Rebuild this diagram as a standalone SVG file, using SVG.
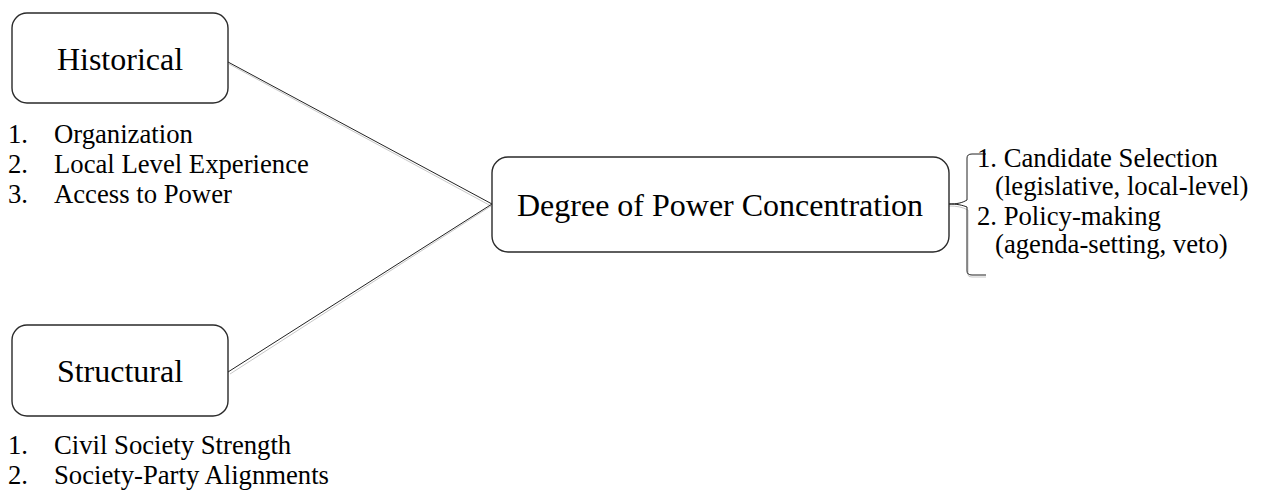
<svg xmlns="http://www.w3.org/2000/svg" width="1266" height="491" viewBox="0 0 1266 491">
<style>
.box{fill:#fff;stroke:#2a2a2a;stroke-width:1.4}
.big{font-family:"Liberation Serif",serif;font-size:32px;fill:#000}
.txt{font-family:"Liberation Serif",serif;font-size:26.7px;fill:#000}
.con{stroke:#222;stroke-width:1;fill:none}
.shd{stroke:#c8c8c8;stroke-width:1;fill:none}
</style>
<rect width="1266" height="491" fill="#fff"/>
<g id="connectors">
<line class="shd" x1="229" y1="64" x2="491" y2="206"/>
<line class="con" x1="228" y1="62" x2="492" y2="204"/>
<line class="shd" x1="230" y1="374" x2="491" y2="206"/>
<line class="con" x1="228" y1="372" x2="492" y2="204"/>
<path class="shd" d="M949,206 C957,206 962,207 968,210 L968,275 Q968,277 972,277 L986,277"/>
<path class="con" d="M949,204 C957,204 962,203 967,200 L967,158 Q967,154 972,154 L986,154 M967,207 L967,271 Q967,275 972,275 L986,275 M949,204 C957,204 962,205 967,207"/>
</g>
<g id="historical">
<rect class="box" x="12" y="13" width="216" height="90" rx="15"/>
<text class="big" x="120" y="70" text-anchor="middle">Historical</text>
</g>
<g id="historical-list">
<text class="txt" x="8" y="143">1.</text><text class="txt" x="54" y="143">Organization</text>
<text class="txt" x="8" y="173">2.</text><text class="txt" x="54" y="173">Local Level Experience</text>
<text class="txt" x="8" y="203">3.</text><text class="txt" x="54" y="203">Access to Power</text>
</g>
<g id="structural">
<rect class="box" x="12" y="325" width="216" height="91" rx="15"/>
<text class="big" x="120" y="382" text-anchor="middle">Structural</text>
</g>
<g id="structural-list">
<text class="txt" x="8" y="454">1.</text><text class="txt" x="54" y="454">Civil Society Strength</text>
<text class="txt" x="8" y="484">2.</text><text class="txt" x="54" y="484">Society-Party Alignments</text>
</g>
<g id="degree">
<rect class="box" x="492" y="157" width="457" height="95" rx="16"/>
<text class="big" x="720" y="216" text-anchor="middle">Degree of Power Concentration</text>
</g>
<g id="outcomes">
<text class="txt" x="977" y="167">1. Candidate Selection</text>
<text class="txt" x="995" y="195">(legislative, local-level)</text>
<text class="txt" x="977" y="225">2. Policy-making</text>
<text class="txt" x="995" y="253">(agenda-setting, veto)</text>
</g>
</svg>
